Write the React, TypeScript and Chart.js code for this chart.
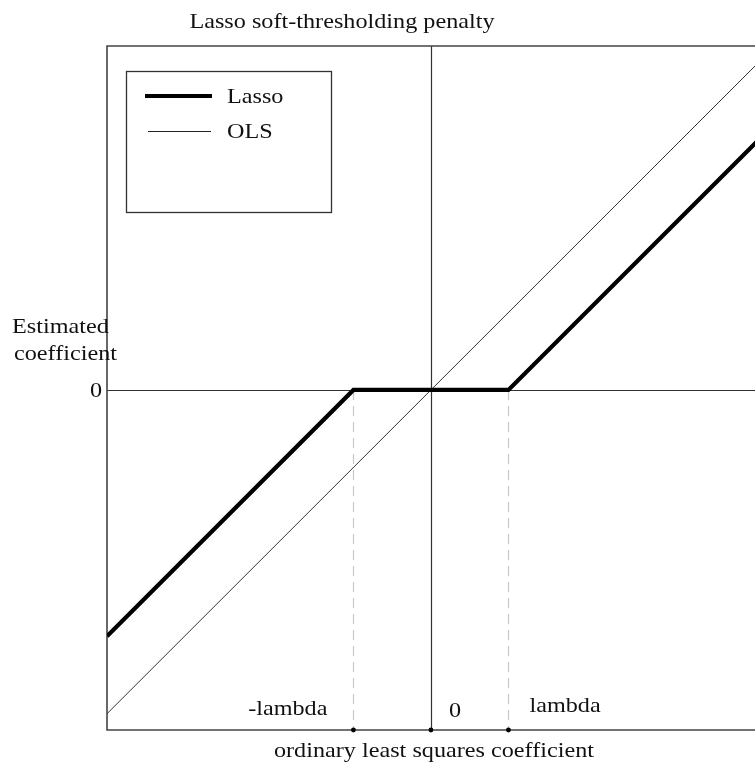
import React, { useEffect, useRef } from "react";
import { Chart, registerables } from "chart.js";

Chart.register(...registerables);

// ---- data (lambda = 1 unit) ----
const xRange = [-4.18, 4.22];
const yRange = [-4.39, 4.44];
const olsX = [-4.18, 4.22];
const olsY = [-4.18, 4.22];
const lassoX = [-4.18, -1, 1, 4.22];
const lassoY = [-3.18, 0, 0, 3.22];
const tickValues = [-1, 0, 1];
const tickLabels = ["-lambda", "0", "lambda"];
const thresholdValues = [-1, 1];
const titleText = "Lasso soft-thresholding penalty";
const xTitle = "ordinary least squares coefficient";
const yTitleLines = ["Estimated", "coefficient"];
const seriesNames = ["Lasso", "OLS"];

const FONT = '22px "Liberation Serif", "Times New Roman", serif';
const SX = 1.1;
const TEXT = "#111";

function txt(ctx: CanvasRenderingContext2D, s: string, x: number, y: number, align: CanvasTextAlign = "left", base: CanvasTextBaseline = "alphabetic") {
  ctx.save();
  ctx.font = FONT;
  ctx.fillStyle = TEXT;
  ctx.translate(x, y);
  ctx.scale(SX, 1);
  ctx.textAlign = align;
  ctx.textBaseline = base;
  ctx.fillText(s, 0, 0);
  ctx.restore();
}

const decor = {
  id: "decor",
  beforeDatasetsDraw(chart: any) {
    const { ctx, chartArea: a, scales } = chart;
    const xs = scales.x, ys = scales.y;
    const x0 = xs.getPixelForValue(0);
    const y0 = ys.getPixelForValue(0);
    ctx.save();
    // dashed threshold guides
    ctx.strokeStyle = "#c8c8c8";
    ctx.lineWidth = 1.2;
    ctx.setLineDash([10, 6]);
    thresholdValues.forEach((v) => {
      const px = Math.round(xs.getPixelForValue(v)) + 0.5;
      ctx.beginPath();
      ctx.moveTo(px, y0);
      ctx.lineTo(px, a.bottom);
      ctx.stroke();
    });
    ctx.setLineDash([]);
    // zero axes
    ctx.strokeStyle = "#333";
    ctx.lineWidth = 1.2;
    ctx.beginPath();
    ctx.moveTo(Math.round(x0) + 0.5, a.top);
    ctx.lineTo(Math.round(x0) + 0.5, a.bottom);
    ctx.moveTo(a.left, Math.round(y0) + 0.5);
    ctx.lineTo(a.right, Math.round(y0) + 0.5);
    ctx.stroke();
    // frame
    ctx.strokeStyle = "#444";
    ctx.lineWidth = 1.6;
    ctx.beginPath();
    ctx.moveTo(a.right, a.top);
    ctx.lineTo(a.left, a.top);
    ctx.lineTo(a.left, a.bottom);
    ctx.lineTo(a.right, a.bottom);
    ctx.stroke();
    ctx.restore();
  },
  afterDatasetsDraw(chart: any) {
    const { ctx, chartArea: a, scales } = chart;
    const xs = scales.x;
    ctx.save();
    ctx.fillStyle = "#000";
    tickValues.forEach((v) => {
      ctx.beginPath();
      ctx.arc(xs.getPixelForValue(v), a.bottom, 2.4, 0, Math.PI * 2);
      ctx.fill();
    });
    ctx.restore();
  },
  afterDraw(chart: any) {
    const { ctx, chartArea: a, scales } = chart;
    const xs = scales.x, ys = scales.y;
    const y0 = ys.getPixelForValue(0);
    // title
    txt(ctx, titleText, 342, 28, "center");
    // y title
    txt(ctx, yTitleLines[0], 12, 333);
    txt(ctx, yTitleLines[1], 14, 360);
    // y zero label
    txt(ctx, "0", a.left - 5, y0 + 7, "right");
    // x tick labels
    const offs = [-26, 18, 21];
    const aligns: CanvasTextAlign[] = ["right", "left", "left"];
    const bases = [715, 717, 712];
    tickValues.forEach((v, i) => {
      txt(ctx, tickLabels[i], xs.getPixelForValue(v) + offs[i], bases[i], aligns[i]);
    });
    // x title
    txt(ctx, xTitle, 434, 757, "center");
    // legend
    ctx.save();
    ctx.strokeStyle = "#333";
    ctx.lineWidth = 1.3;
    ctx.strokeRect(126.5, 71.5, 205, 141);
    ctx.strokeStyle = "#000";
    ctx.lineWidth = 4;
    ctx.beginPath();
    ctx.moveTo(145, 96);
    ctx.lineTo(212, 96);
    ctx.stroke();
    ctx.strokeStyle = "#222";
    ctx.lineWidth = 1;
    ctx.beginPath();
    ctx.moveTo(148, 131.5);
    ctx.lineTo(211, 131.5);
    ctx.stroke();
    ctx.restore();
    txt(ctx, seriesNames[0], 227, 103);
    txt(ctx, seriesNames[1], 227, 138);
  },
};

export default function App() {
  const ref = useRef<HTMLCanvasElement | null>(null);
  useEffect(() => {
    if (!ref.current) return;
    const chart = new Chart(ref.current, {
      type: "line",
      data: {
        datasets: [
          {
            label: seriesNames[0],
            data: lassoX.map((x, i) => ({ x, y: lassoY[i] })),
            borderColor: "#000",
            borderWidth: 4.2,
            pointRadius: 0,
            tension: 0,
            borderJoinStyle: "miter",
            borderCapStyle: "butt",
          },
          {
            label: seriesNames[1],
            data: olsX.map((x, i) => ({ x, y: olsY[i] })),
            borderColor: "#333",
            borderWidth: 1,
            pointRadius: 0,
            tension: 0,
          },
        ],
      },
      options: {
        animation: false,
        responsive: false,
        devicePixelRatio: 1,
        layout: { padding: { left: 107, top: 46, right: 22, bottom: 35 } },
        plugins: { legend: { display: false }, tooltip: { enabled: false }, title: { display: false } },
        scales: {
          x: { type: "linear", min: xRange[0], max: xRange[1], display: false },
          y: { type: "linear", min: yRange[0], max: yRange[1], display: false },
        },
      },
      plugins: [decor],
    });
    return () => chart.destroy();
  }, []);
  return (
    <div style={{ position: "fixed", left: 0, top: 0, width: 755, height: 765, overflow: "hidden", background: "#fff" }}>
      <canvas ref={ref} width={780} height={765} style={{ display: "block", width: 780, height: 765 }} />
    </div>
  );
}
